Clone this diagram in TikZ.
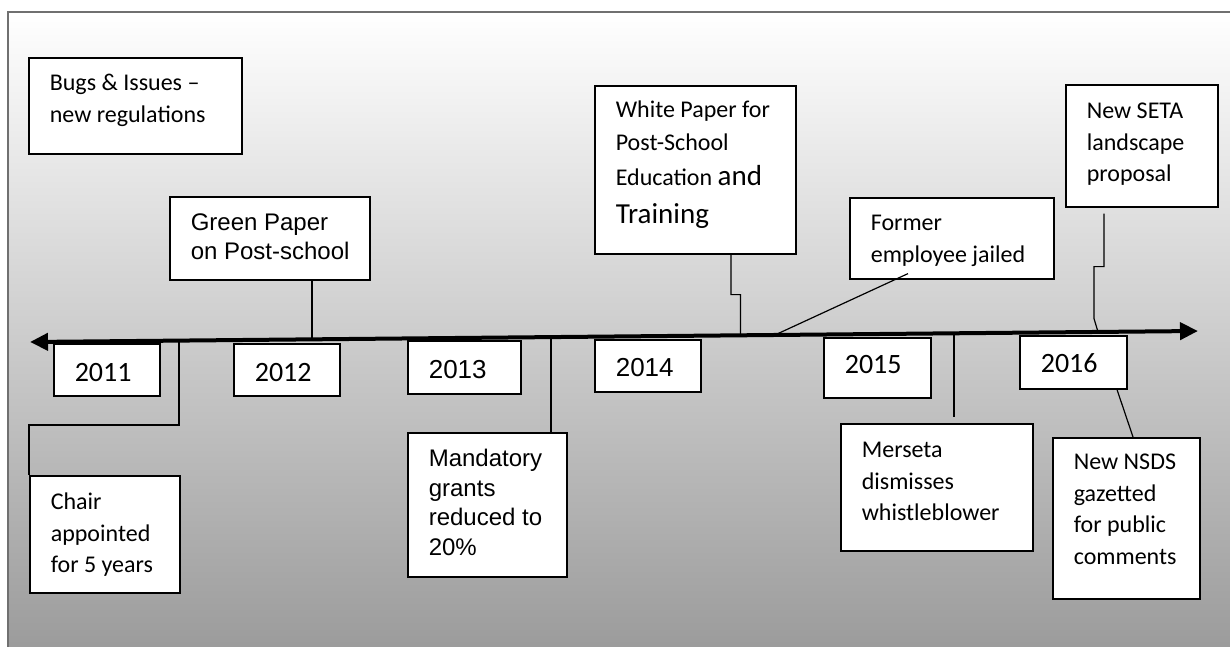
\documentclass[tikz,border=0pt]{standalone}
\usepackage{fontspec}
\setmainfont{Carlito}
\newfontfamily\arialfont{Liberation Sans}
\usetikzlibrary{arrows.meta,calc}

\definecolor{framegray}{HTML}{707070}

% text in a box: width, height, first baseline, text
\newcommand{\boxtext}[4]{\parbox[t][#2pt][t]{#1pt}{\raggedright\leftskip=21pt\relax\rule{0pt}{#3pt}#4}}
\newcommand{\evsize}{\fontsize{24}{31.5}\selectfont}

\tikzset{
  evbox/.style={draw, fill=white, line width=1.6pt, inner sep=0pt, anchor=north west},
  link/.style={line width=1.2pt},
}

\begin{document}
\begin{tikzpicture}[x=1pt,y=-1pt]
\useasboundingbox (0,0) rectangle (1230,647);
% background
\draw[framegray, line width=2pt, top color=white, middle color=black!16, bottom color=black!39] (8,12) rectangle (1240,648);

% years
\foreach \yr/\bx/\by/\bw/\bh/\bl in
{2011/53/343/106/52/38, 2012/233/343/106/52/38, 2015/823/337/107/60/36, 2016/1019/335/107/53/37}{
	\node[evbox] (y\yr) at (\bx,\by) {\fontsize{28}{34}\selectfont\boxtext{\bw}{\bh}{\bl}{\yr}};
}
\foreach \yr/\bx/\by/\bw/\bh/\bl in
{2013/407/340/113/53/38, 2014/594/339/106/52/37}{
	\node[evbox] (y\yr) at (\bx,\by) {\arialfont\fontsize{26}{32}\selectfont\boxtext{\bw}{\bh}{\bl}{\yr}};
}

% events above the line
\node[evbox] (bugs) at (28,57) {\evsize\boxtext{213}{96}{33}{Bugs \& Issues --\\new regulations}};
\node[evbox] (gp) at (169,196) {\arialfont\fontsize{24}{28.3}\selectfont\boxtext{200}{83}{34}{Green Paper\\on Post-school}};
\node[evbox] (wp) at (594,85) {\evsize\boxtext{201}{168}{32}{White Paper for\\[1.5pt]Post-School\\[3.5pt]Education {\fontsize{29}{33}\selectfont and}\\[6.5pt]{\fontsize{29}{33}\selectfont Training}}};
\node[evbox] (fe) at (849,197) {\evsize\boxtext{204}{81}{33}{Former\\employee jailed}};
\node[evbox] (seta) at (1065,84) {\evsize\boxtext{152}{122}{34}{New SETA\\landscape\\proposal}};

% events below the line
\node[evbox] (chair) at (29,475) {\evsize\boxtext{150}{117}{34}{Chair\\appointed\\for 5 years}};
\node[evbox] (md) at (407,432) {\arialfont\fontsize{24}{29.5}\selectfont\boxtext{159}{144}{34}{Mandatory\\grants\\reduced to\\20\%}};
\node[evbox] (mb) at (840,423) {\evsize\boxtext{192}{127}{34}{Merseta\\dismisses\\whistleblower}};
\node[evbox] (nsds) at (1052,437) {\evsize\boxtext{147}{161}{32}{New NSDS\\gazetted\\for public\\comments}};

% timeline
\coordinate (tlL) at (30,342);
\coordinate (tlR) at (1198,331);
\draw[line width=4pt, {Triangle[length=18pt,width=17pt]}-{Triangle[length=18pt,width=17pt]}] (tlL) -- (tlR);

\coordinate (chT) at ($(tlL)!0.1276!(tlR)$);
\coordinate (gpT) at ($(tlL)!0.2414!(tlR)$);
\coordinate (mdT) at ($(tlL)!0.4461!(tlR)$);
\coordinate (wpT) at ($(tlL)!0.6083!(tlR)$);
\coordinate (feT) at ($(tlL)!0.6378!(tlR)$);
\coordinate (mbT) at ($(tlL)!0.7911!(tlR)$);
\coordinate (setaT) at ($(tlL)!0.9144!(tlR)$);

\draw[link] (gp.south -| gpT) -- (gpT);
\draw[link] (chT) |- ([yshift=50pt]chair.north west) -- (chair.north west);
\draw[link] (mdT) -- (md.north -| mdT);
\draw[link] ($(wp.south west)+(137,0)$) -- ++(0,40) -- ++(9.5,0) -- (wpT);
\draw[link] ($(fe.south west)+(59,-6)$) -- (feT);
\draw[link] (mbT) -- ($(mbT |- mb.north)+(0,-6)$);
\draw[link] ($(seta.south west)+(39,6)$) -- ++(0,53) -- ++(-10,0) -- ++(0,52) -- (setaT);
\draw[link] ($(y2016.south west)+(98,0)$) -- ($(nsds.north west)+(81,0)$);
\end{tikzpicture}
\end{document}
